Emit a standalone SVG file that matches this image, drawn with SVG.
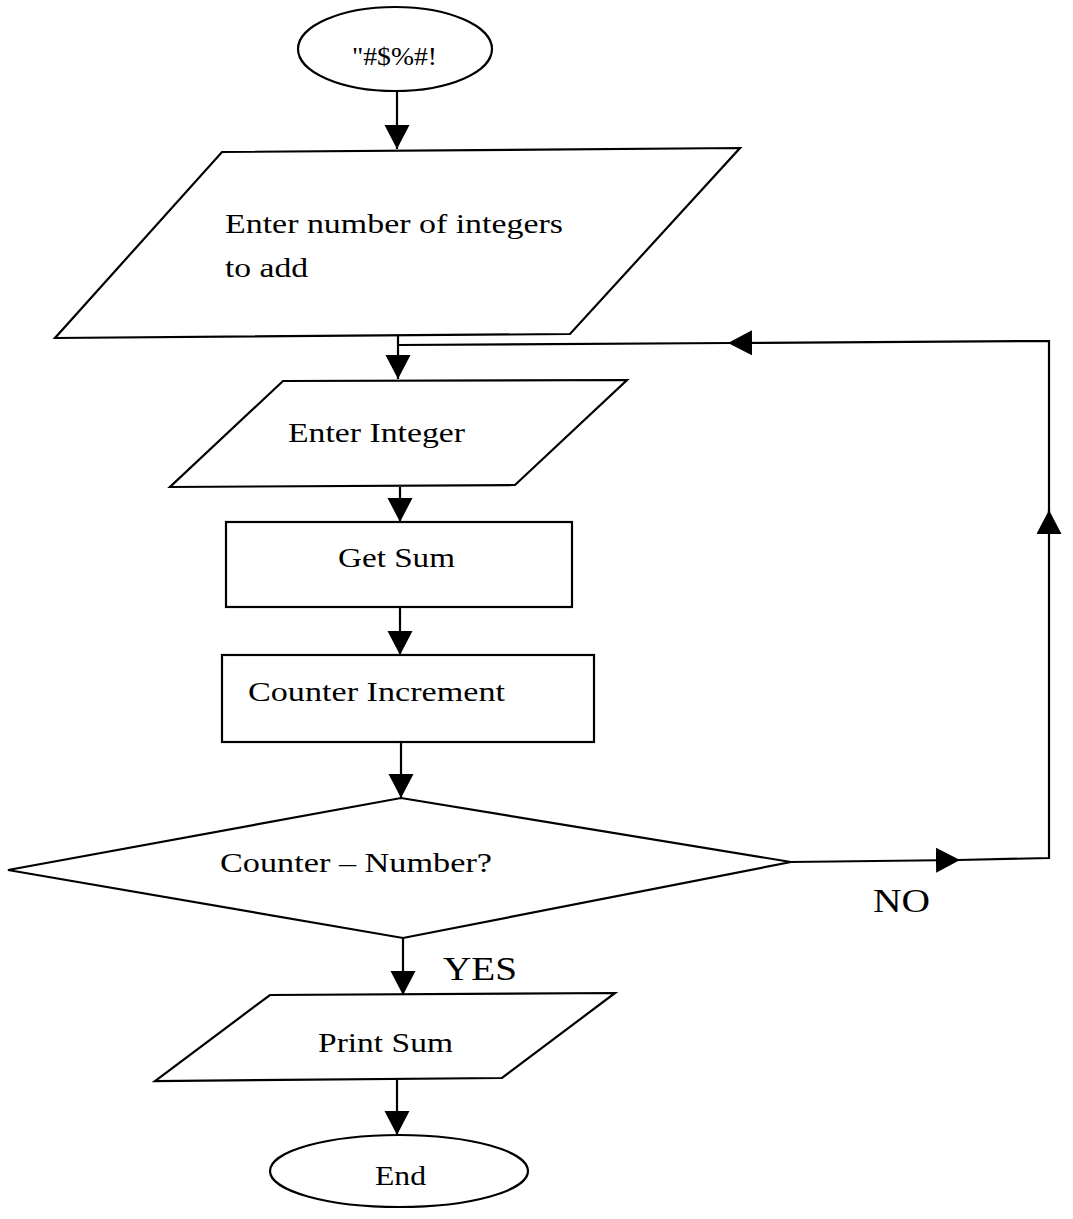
<svg xmlns="http://www.w3.org/2000/svg" width="1073" height="1219" viewBox="0 0 1073 1219">
<style>
.shape{fill:#fff;stroke:#000;stroke-width:2.2}
.conn{fill:none;stroke:#000;stroke-width:2.2}
.t{font-family:"Liberation Serif","Times New Roman",serif;font-size:28px;fill:#000}
.big{font-size:34px}
</style>
<defs>
<marker id="ah" markerUnits="userSpaceOnUse" markerWidth="26" markerHeight="26" refX="24" refY="12.5" orient="auto" viewBox="0 0 26 26">
<path d="M0,0 L24,12.5 L0,25 Z" fill="#000"/>
</marker>
</defs>
<rect width="1073" height="1219" fill="#fff"/>
<g id="connectors">
<path class="conn" d="M397,91 L397,149" marker-end="url(#ah)"/>
<path class="conn" d="M398,336 L398,379" marker-end="url(#ah)"/>
<path class="conn" d="M400,487 L400,522" marker-end="url(#ah)"/>
<path class="conn" d="M400,607 L400,655" marker-end="url(#ah)"/>
<path class="conn" d="M401,742 L401,798" marker-end="url(#ah)"/>
<path class="conn" d="M403,938 L403,995" marker-end="url(#ah)"/>
<path class="conn" d="M397,1080 L397,1135" marker-end="url(#ah)"/>
<path class="conn" d="M790,862 L960,860" marker-end="url(#ah)"/>
<path class="conn" d="M958,860 L1049,858 L1049,510" marker-end="url(#ah)"/>
<path class="conn" d="M1049,512 L1049,341 L728,343" marker-end="url(#ah)"/>
<path class="conn" d="M730,343 L398,345"/>
</g>
<g id="start">
<ellipse class="shape" cx="395" cy="49" rx="97" ry="42"/>
<text class="t" x="352" y="65" style="font-size:26px" textLength="85" lengthAdjust="spacingAndGlyphs">"#$%#!</text>
</g>
<g id="input-count">
<polygon class="shape" points="222,152 740,148 570,334 55,338"/>
<text class="t" x="225" y="233" textLength="338" lengthAdjust="spacingAndGlyphs">Enter number of integers</text>
<text class="t" x="225" y="277" textLength="83" lengthAdjust="spacingAndGlyphs">to add</text>
</g>
<g id="input-integer">
<polygon class="shape" points="283,381 627,380 515,485 170,487"/>
<text class="t" x="288" y="442" textLength="177" lengthAdjust="spacingAndGlyphs">Enter Integer</text>
</g>
<g id="get-sum">
<rect class="shape" x="226" y="522" width="346" height="85"/>
<text class="t" x="338" y="567" textLength="117" lengthAdjust="spacingAndGlyphs">Get Sum</text>
</g>
<g id="counter-increment">
<rect class="shape" x="222" y="655" width="372" height="87"/>
<text class="t" x="248" y="701" textLength="257" lengthAdjust="spacingAndGlyphs">Counter Increment</text>
</g>
<g id="decision">
<polygon class="shape" points="401,798 791,862 403,938 8,870"/>
<text class="t" x="220" y="872" textLength="272" lengthAdjust="spacingAndGlyphs">Counter – Number?</text>
</g>
<g id="labels">
<text class="t big" x="873" y="912" textLength="57" lengthAdjust="spacingAndGlyphs">NO</text>
<text class="t big" x="443" y="980" textLength="74" lengthAdjust="spacingAndGlyphs">YES</text>
</g>
<g id="print-sum">
<polygon class="shape" points="270,995 615,993 502,1078 155,1081"/>
<text class="t" x="318" y="1052" textLength="135" lengthAdjust="spacingAndGlyphs">Print Sum</text>
</g>
<g id="end">
<ellipse class="shape" cx="399" cy="1171" rx="129" ry="36"/>
<text class="t" x="375" y="1185" textLength="51" lengthAdjust="spacingAndGlyphs">End</text>
</g>
</svg>
